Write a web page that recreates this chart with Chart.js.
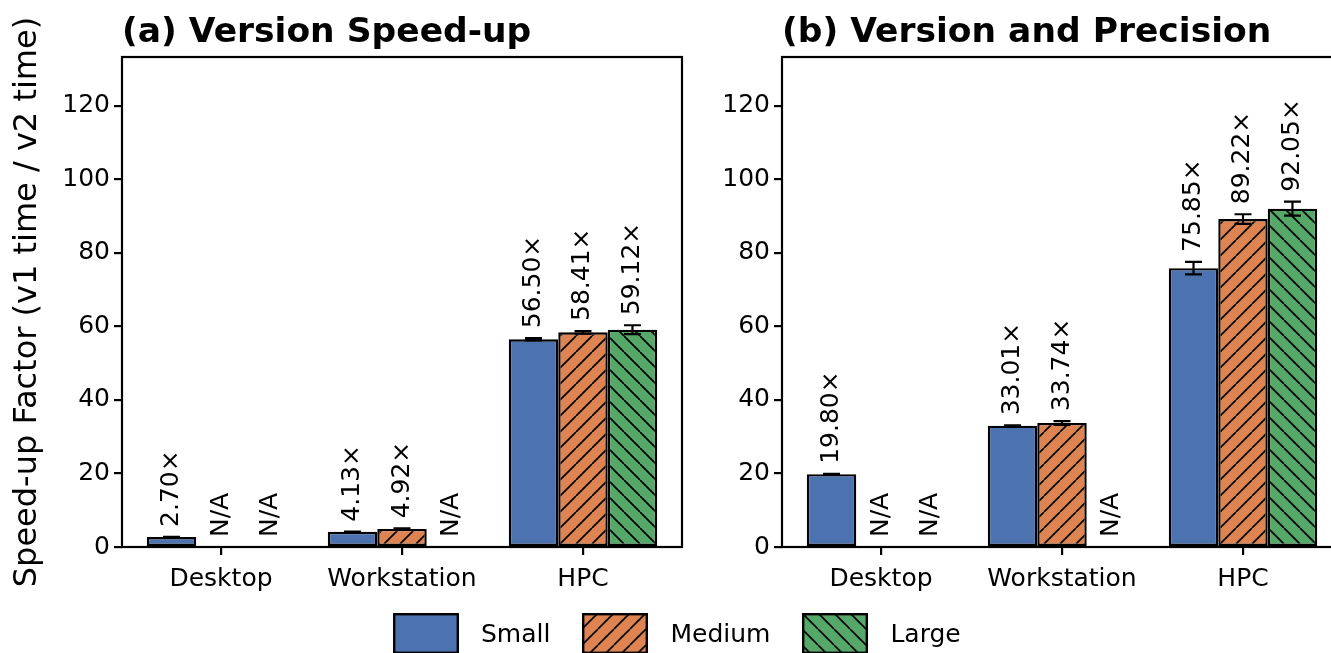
<!DOCTYPE html>
<html>
<head>
<meta charset="utf-8">
<script src="https://cdn.jsdelivr.net/npm/chart.js@4.4.1/dist/chart.umd.min.js"></script>
<style>
  html, body { margin: 0; padding: 0; background: #fff; }
  body { width: 1331px; height: 653px; overflow: hidden; position: relative;
         font-family: 'DejaVu Sans', sans-serif; color: #000; }
  canvas.panel { position: absolute; top: 0; }
  #legend { position: absolute; left: 393px; top: 613px; height: 41px;
            display: flex; align-items: center; font-size: 25px; line-height: 1; }
  #legend canvas { display: block; }
  #legend .name { margin-left: 22px; margin-right: 32px; }
</style>
</head>
<body>
<canvas id="panelA" class="panel" width="700" height="653" style="left:0px"></canvas>
<canvas id="panelB" class="panel" width="700" height="653" style="left:660px"></canvas>
<div id="legend"></div>
<script>
// Machine classes on the x axis and problem sizes in each group
const categories = ['Desktop', 'Workstation', 'HPC'];
const sizes = ['Small', 'Medium', 'Large'];
const yTickValues = [0, 20, 40, 60, 80, 100, 120];

// (a) v1 -> v2 speed-up, mean and spread per size (null = not run)
const versionSmall  = [2.70, 4.13, 56.50];
const versionMedium = [null, 4.92, 58.41];
const versionLarge  = [null, null, 59.12];
const versionSmallErr  = [0.05, 0.05, 0.3];
const versionMediumErr = [null, 0.15, 0.35];
const versionLargeErr  = [null, null, 1.2];

// (b) v1 -> v2 speed-up with reduced precision
const precisionSmall  = [19.80, 33.01, 75.85];
const precisionMedium = [null, 33.74, 89.22];
const precisionLarge  = [null, null, 92.05];
const precisionSmallErr  = [0.1, 0.1, 1.7];
const precisionMediumErr = [null, 0.5, 1.3];
const precisionLargeErr  = [null, null, 1.9];

const COLORS = ['#4C72B0', '#DD8452', '#55A868'];
const HATCH = ['', '/', '\\'];
const HATCH_STEP = 16;
const FONT = "'DejaVu Sans', sans-serif";

Chart.defaults.font.family = FONT;
Chart.defaults.color = '#000';
Chart.defaults.animation = false;

function makeFill(ctx, color, hatch) {
  if (!hatch) return color;
  const s = HATCH_STEP;
  const tile = document.createElement('canvas');
  tile.width = s; tile.height = s;
  const g = tile.getContext('2d');
  g.fillStyle = color;
  g.fillRect(0, 0, s, s);
  g.strokeStyle = '#000';
  g.lineWidth = 1.7;
  g.beginPath();
  for (let k = -1; k <= 1; k++) {
    if (hatch === '/') { g.moveTo(k * s, s); g.lineTo(k * s + s, 0); }
    else { g.moveTo(k * s, 0); g.lineTo(k * s + s, s); }
  }
  g.stroke();
  return ctx.createPattern(tile, 'repeat');
}

// Axes box drawn on all four sides
const framePlugin = {
  id: 'frame',
  afterDraw(chart) {
    const { ctx, chartArea: a } = chart;
    ctx.save();
    ctx.strokeStyle = '#000';
    ctx.lineWidth = 2.2;
    ctx.strokeRect(a.left, a.top, a.right - a.left, a.bottom - a.top);
    ctx.restore();
  }
};

// Error bars plus rotated value labels ("N/A" where a size was not run)
const annotatePlugin = {
  id: 'annotate',
  afterDatasetsDraw(chart) {
    const { ctx } = chart;
    const y = chart.scales.y;
    chart.data.datasets.forEach((ds, di) => {
      const meta = chart.getDatasetMeta(di);
      ds.data.forEach((pt, i) => {
        const el = meta.data[i];
        const cx = el.x;
        const v = pt.y;
        const e = ds.errors[i] || 0;
        ctx.save();
        if (v !== null) {
          const top = y.getPixelForValue(v + e);
          const bot = y.getPixelForValue(v - e);
          ctx.strokeStyle = '#000';
          ctx.lineWidth = 2.2;
          ctx.beginPath();
          ctx.moveTo(cx, top); ctx.lineTo(cx, bot);
          ctx.moveTo(cx - 8.5, top); ctx.lineTo(cx + 8.5, top);
          ctx.moveTo(cx - 8.5, bot); ctx.lineTo(cx + 8.5, bot);
          ctx.stroke();
        }
        const text = v === null ? 'N/A' : v.toFixed(2) + '\u00d7';
        const anchor = y.getPixelForValue((v === null ? 0 : v) + e) - 10;
        ctx.translate(cx, anchor);
        ctx.rotate(-Math.PI / 2);
        ctx.font = '25px ' + FONT;
        ctx.fillStyle = '#000';
        ctx.textAlign = 'left';
        ctx.textBaseline = 'middle';
        ctx.fillText(text, 0, 0);
        ctx.restore();
      });
    });
  }
};

function makePanel(canvasId, title, series, errors, yTitle) {
  const canvas = document.getElementById(canvasId);
  const ctx = canvas.getContext('2d');
  const datasets = sizes.map((name, s) => ({
    label: name,
    data: series[s].map((v, i) => ({ x: i, y: v })),
    errors: errors[s],
    backgroundColor: makeFill(ctx, COLORS[s], HATCH[s]),
    borderColor: '#000',
    borderWidth: 2.4,
    borderSkipped: false,
    categoryPercentage: 0.82,
    barPercentage: 1.0
  }));
  return new Chart(ctx, {
    type: 'bar',
    data: { datasets },
    plugins: [annotatePlugin, framePlugin],
    options: {
      responsive: false,
      animation: false,
      layout: { padding: { left: 0, right: 18, top: 0, bottom: 0 } },
      plugins: {
        legend: { display: false },
        tooltip: { enabled: false },
        title: {
          display: true, text: title, align: 'start', fullSize: false,
          color: '#000', font: { size: 34.5, weight: 'bold', family: FONT },
          padding: { top: 12, bottom: 3.6 }
        }
      },
      scales: {
        x: {
          type: 'linear', min: -0.547, max: 2.547, offset: false,
          afterBuildTicks(scale) {
            scale.ticks = categories.map((c, i) => ({ value: i }));
          },
          afterFit(scale) { scale.height = 106; },
          ticks: {
            callback: (v) => categories[v] ?? '',
            font: { size: 25, family: FONT }, color: '#000',
            padding: 9, maxRotation: 0, autoSkip: false, includeBounds: false
          },
          grid: { drawOnChartArea: false, drawTicks: true, tickLength: 8,
                  color: '#000', lineWidth: 2.2, offset: false },
          border: { display: false }
        },
        y: {
          min: 0, max: 133.3,
          afterBuildTicks(scale) {
            scale.ticks = yTickValues.map(v => ({ value: v }));
          },
          afterFit(scale) { scale.width = 122; },
          ticks: { font: { size: 25, family: FONT }, color: '#000', padding: 4 },
          grid: { drawOnChartArea: false, drawTicks: true, tickLength: 8,
                  color: '#000', lineWidth: 2.2 },
          border: { display: false },
          title: {
            display: !!yTitle, text: yTitle || '', color: '#000',
            font: { size: 32, family: FONT }, padding: { top: 8, bottom: 0 }
          }
        }
      }
    }
  });
}

makePanel('panelA', '(a) Version Speed-up',
  [versionSmall, versionMedium, versionLarge],
  [versionSmallErr, versionMediumErr, versionLargeErr],
  'Speed-up Factor (v1 time / v2 time)');

makePanel('panelB', '(b) Version and Precision',
  [precisionSmall, precisionMedium, precisionLarge],
  [precisionSmallErr, precisionMediumErr, precisionLargeErr],
  null);

// Shared legend below both panels
const legend = document.getElementById('legend');
sizes.forEach((name, s) => {
  const sw = document.createElement('canvas');
  sw.width = 66; sw.height = 41;
  const g = sw.getContext('2d');
  g.fillStyle = makeFill(g, COLORS[s], HATCH[s]);
  g.fillRect(0, 0, 66, 41);
  g.strokeStyle = '#000';
  g.lineWidth = 2.4;
  g.strokeRect(1.2, 1.2, 63.6, 38.6);
  legend.appendChild(sw);
  const label = document.createElement('span');
  label.className = 'name';
  label.textContent = name;
  legend.appendChild(label);
});
</script>
</body>
</html>
